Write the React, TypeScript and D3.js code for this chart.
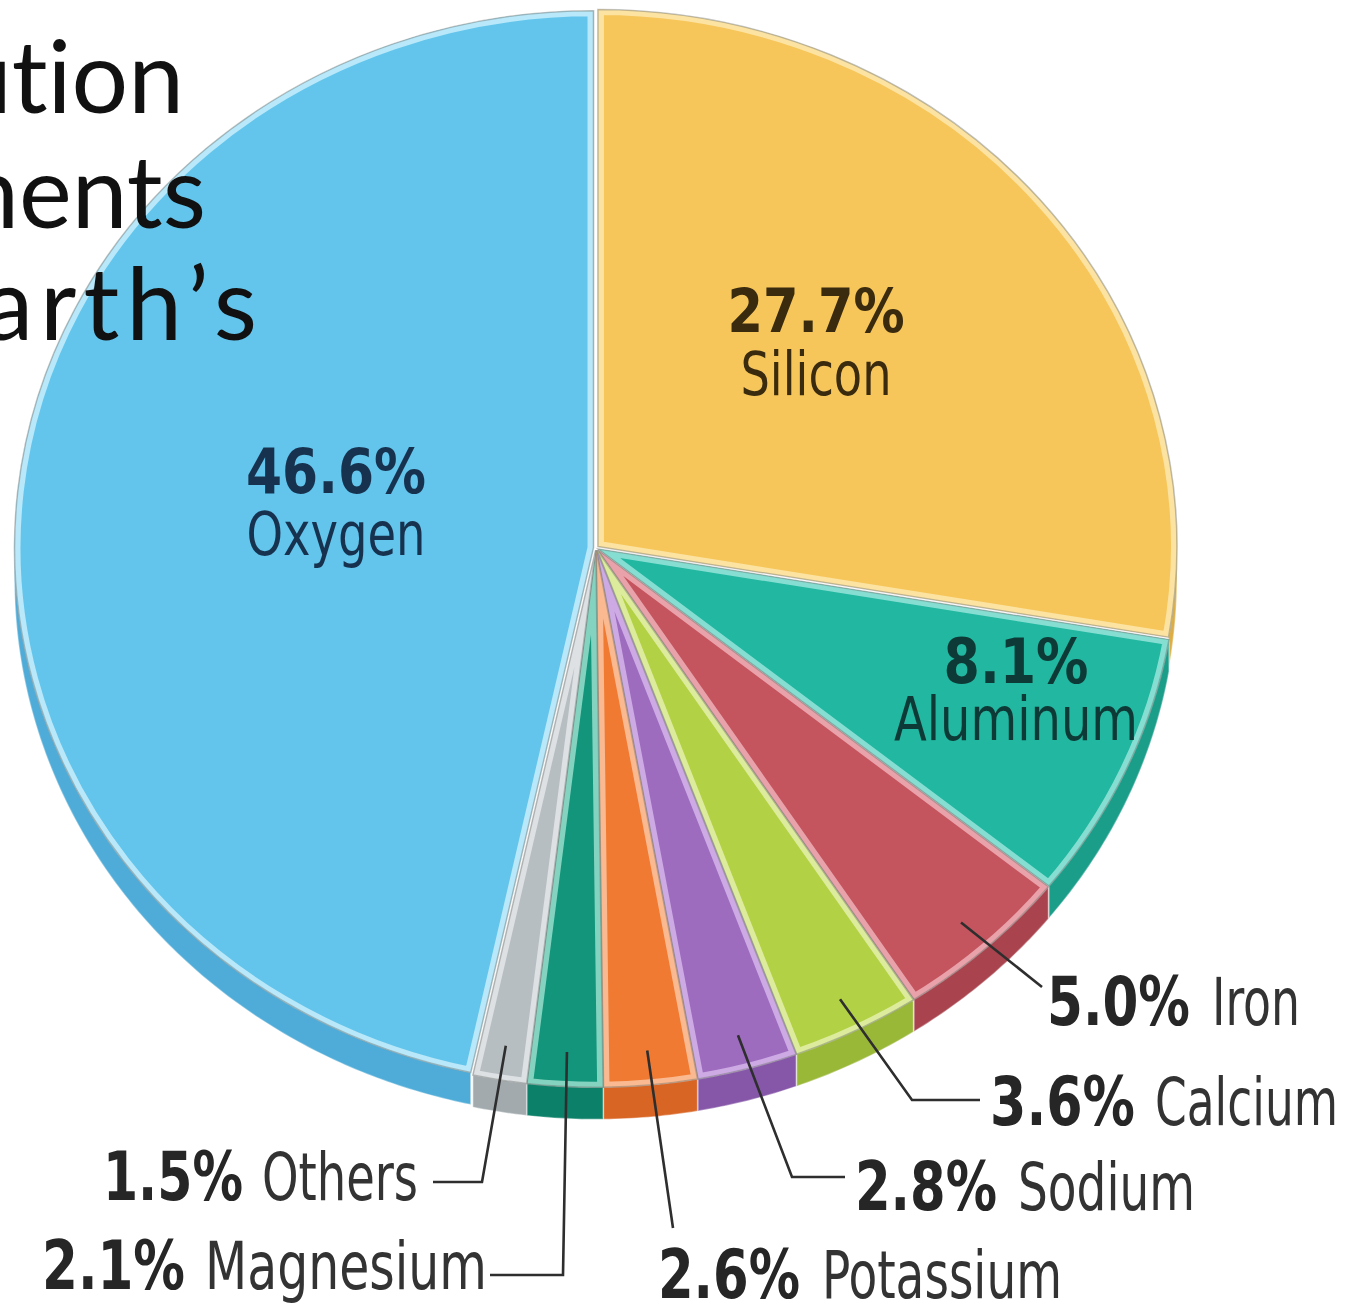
import React from "react";
import * as d3 from "d3";

// ---- data ----
const elements = ["Silicon", "Aluminum", "Iron", "Calcium", "Sodium", "Potassium", "Magnesium", "Others", "Oxygen"];
const percents = [27.7, 8.1, 5.0, 3.6, 2.8, 2.6, 2.1, 1.5, 46.6];
const faceColors = ["#F6C65A", "#22B7A0", "#C4555F", "#B3D145", "#9D6CBF", "#F07A32", "#12957A", "#B7BEC2", "#63C5EC"];
const tintColors = ["#FCE3A2", "#86DED2", "#E9A2AA", "#DCEC9C", "#CDAAE4", "#FAB990", "#84D3C0", "#DDE1E4", "#B8E8F9"];
const sideColors = ["#DDAE45", "#1A9E8A", "#A9444E", "#9AB837", "#8657A8", "#D96524", "#0D8069", "#A2AAAE", "#4FACD8"];
const titleLines = ["Distribution", "of Elements", "in Earth\u2019s"];

// ---- layout ----
const W = 1350, H = 1308;
const CX = 596, CY = 548, RX = 579, RY = 537, DEPTH = 32;
const K = RY / RX;

const insideLabels: Record<string, { x: number; y1: number; y2: number; w1: number; w2: number; fs1: number; fs2: number; color: string }> = {
  Silicon: { x: 816, y1: 332, y2: 395, w1: 177, w2: 151, fs1: 60, fs2: 60, color: "#3B2B0E" },
  Oxygen: { x: 336, y1: 493, y2: 555, w1: 180, w2: 179, fs1: 62, fs2: 60, color: "#16324F" },
  Aluminum: { x: 1016, y1: 683, y2: 740, w1: 145, w2: 244, fs1: 62, fs2: 60, color: "#0D3A36" },
};

const outsideLabels = [
  { name: "Iron", numX: 1047, numW: 143, nameX: 1212, nameW: 88, y: 1025, path: [[1042, 987]] },
  { name: "Calcium", numX: 990, numW: 145, nameX: 1155, nameW: 183, y: 1125, path: [[912, 1100], [980, 1100]] },
  { name: "Sodium", numX: 855, numW: 142, nameX: 1018, nameW: 177, y: 1210, path: [[792, 1177], [845, 1177]] },
  { name: "Potassium", numX: 658, numW: 142, nameX: 822, nameW: 240, y: 1298, path: [[673, 1228]] },
  { name: "Magnesium", numX: 42, numW: 143, nameX: 205, nameW: 282, y: 1289, path: [[563, 1275], [490, 1275]] },
  { name: "Others", numX: 103, numW: 140, nameX: 262, nameW: 156, y: 1200, path: [[482, 1182], [433, 1182]] },
];

const titleLayout = [
  { x: 184, y: 113, ls: 0 },
  { x: 206, y: 228, ls: 0 },
  { x: 264, y: 340, ls: 7 },
];

const LABEL_FONT = "'Liberation Sans Narrow', 'DejaVu Sans Condensed', 'Roboto', 'Liberation Sans', sans-serif";
const fmt = (v: number) => `${d3.format(".1f")(v)}%`;

export default function App() {
  const data = elements.map((e, i) => ({ name: e, value: percents[i], i }));
  const pie = d3.pie<any>().sort(null).value((d) => d.value).startAngle(0).endAngle(2 * Math.PI);
  const arcs = pie(data);
  const arcGen = d3.arc<any>().innerRadius(0).outerRadius(RX);
  const OFF = 2.5;

  const sidePath = (a0: number, a1: number) => {
    const s0 = Math.max(a0, Math.PI / 2);
    const s1 = Math.min(a1, (3 * Math.PI) / 2);
    if (s0 >= s1) return null;
    const n = Math.max(4, Math.ceil((s1 - s0) / 0.01));
    const top = d3.range(n + 1).map((j) => {
      const a = s0 + ((s1 - s0) * j) / n;
      return [RX * Math.sin(a), -RX * Math.cos(a)] as [number, number];
    });
    const bottom = top.slice().reverse().map(([x, y]) => [x, y + DEPTH / K] as [number, number]);
    return d3.line()([...top, ...bottom]) + "Z";
  };

  const offsetOf = (a: any) => {
    const m = (a.startAngle + a.endAngle) / 2;
    return [Math.sin(m) * OFF, -Math.cos(m) * OFF];
  };

  const leaderStart = (name: string) => {
    const a = arcs.find((d) => d.data.name === name)!;
    const m = (a.startAngle + a.endAngle) / 2;
    const f = 0.94;
    return [CX + RX * f * Math.sin(m), CY - RY * f * Math.cos(m)];
  };

  return (
    <svg width={W} height={H} viewBox={`0 0 ${W} ${H}`} style={{ display: "block", position: "absolute", left: 0, top: 0, background: "#fff" }}>
      <defs>
        {arcs.map((a, i) => (
          <clipPath id={`clip-${i}`} key={i}>
            <path d={arcGen(a)!} />
          </clipPath>
        ))}
      </defs>
      <rect width={W} height={H} fill="#fff" />
      <g transform={`translate(${CX},${CY}) scale(1,${K})`}>
        {/* side walls */}
        {arcs.map((a, i) => {
          const p = sidePath(a.startAngle, a.endAngle);
          if (!p) return null;
          const [ox, oy] = offsetOf(a);
          return (
            <g key={`s${i}`} transform={`translate(${ox},${oy})`}>
              <path d={p} fill={sideColors[i]} stroke="rgba(255,255,255,0.35)" strokeWidth={1.5} />
            </g>
          );
        })}
        {/* top faces */}
        {arcs.map((a, i) => {
          const [ox, oy] = offsetOf(a);
          const d = arcGen(a)!;
          return (
            <g key={`f${i}`} transform={`translate(${ox},${oy})`}>
              <path d={d} fill={faceColors[i]} />
              <path d={d} fill="none" stroke={tintColors[i]} strokeWidth={12} clipPath={`url(#clip-${i})`} />
              <path d={d} fill="none" stroke="rgba(120,125,120,0.45)" strokeWidth={1.6} />
            </g>
          );
        })}
      </g>

      {/* inside labels */}
      {Object.entries(insideLabels).map(([name, L]) => {
        const idx = elements.indexOf(name);
        return (
          <g key={name} fill={L.color} fontFamily={LABEL_FONT} textAnchor="middle">
            <text x={L.x} y={L.y1} fontSize={L.fs1} fontWeight="bold" textLength={L.w1} lengthAdjust="spacingAndGlyphs">
              {fmt(percents[idx])}
            </text>
            <text x={L.x} y={L.y2} fontSize={L.fs2} textLength={L.w2} lengthAdjust="spacingAndGlyphs">
              {name}
            </text>
          </g>
        );
      })}

      {/* leader lines + outside labels */}
      {outsideLabels.map((L) => {
        const idx = elements.indexOf(L.name);
        const pts = [leaderStart(L.name), ...L.path] as [number, number][];
        return (
          <g key={L.name}>
            <path d={d3.line()(pts)!} fill="none" stroke="#2E2E2E" strokeWidth={2.6} />
            <text x={L.numX} y={L.y} fontFamily={LABEL_FONT} fontSize={68} fontWeight="bold" fill="#262626" textLength={L.numW} lengthAdjust="spacingAndGlyphs">
              {fmt(percents[idx])}
            </text>
            <text x={L.nameX} y={L.y} fontFamily={LABEL_FONT} fontSize={65} fill="#333" textLength={L.nameW} lengthAdjust="spacingAndGlyphs">
              {L.name}
            </text>
          </g>
        );
      })}

      {/* title (cut off at the left edge) */}
      <g fontFamily="Lato, 'Noto Sans', sans-serif" fontSize={100} fill="#111" textAnchor="end">
        {titleLines.map((t, i) => (
          <text
            key={i}
            x={titleLayout[i].x}
            y={titleLayout[i].y}
            letterSpacing={titleLayout[i].ls}
            style={{ fontVariantLigatures: "none", fontFeatureSettings: '"liga" 0, "clig" 0, "dlig" 0' }}
          >
            {t}
          </text>
        ))}
      </g>
    </svg>
  );
}
